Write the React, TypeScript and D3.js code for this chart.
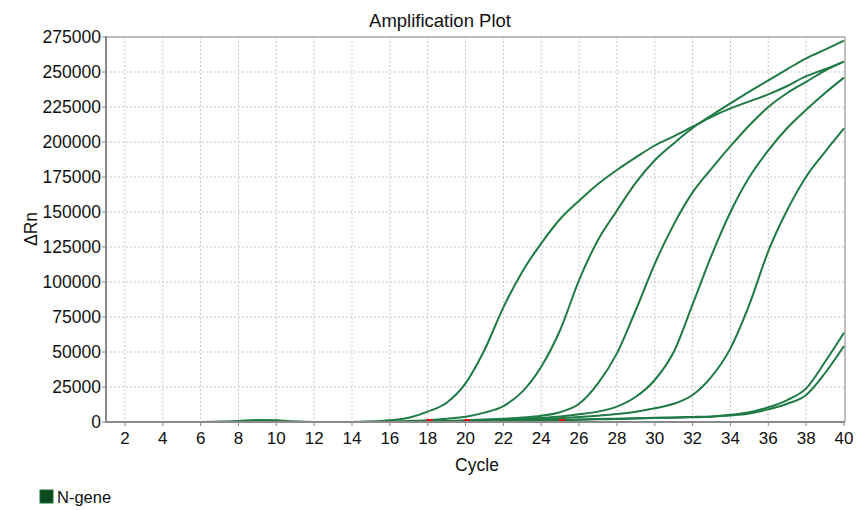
import React from "react";
import * as d3 from "d3";

const cycles: number[] = d3.range(1, 41);
const xTicks: number[] = [2, 4, 6, 8, 10, 12, 14, 16, 18, 20, 22, 24, 26, 28, 30, 32, 34, 36, 38, 40];
const yTicks: number[] = [0, 25000, 50000, 75000, 100000, 125000, 150000, 175000, 200000, 225000, 250000, 275000];

const wellA: number[] = [0, 0, 0, 0, 0, 0, 200, 700, 1500, 1300, 300, 0, 0, 0, 300, 1200, 3000, 7400, 13800, 27600, 51400, 81900, 107400, 127600, 145000, 158000, 170000, 180000, 189000, 197500, 204000, 211000, 218000, 224000, 229000, 234000, 240000, 247000, 252000, 257400];
const wellB: number[] = [0, 0, 0, 0, 0, 0, 100, 500, 1000, 900, 200, 0, 0, 0, 100, 300, 700, 1200, 2400, 3800, 6700, 11400, 21700, 39500, 65700, 101400, 130000, 151000, 171000, 187000, 199000, 210000, 219000, 227600, 236000, 244000, 252000, 259800, 266000, 272400];
const wellC: number[] = [0, 0, 0, 0, 0, 0, 0, 0, 0, 0, 0, 0, 0, 0, 0, 0, 200, 500, 800, 1200, 1700, 2400, 3200, 4500, 7000, 13000, 27600, 49000, 80000, 113000, 141000, 164000, 181000, 197000, 212000, 225000, 235000, 243000, 251000, 257400];
const wellD: number[] = [0, 0, 0, 0, 0, 0, 0, 0, 0, 0, 0, 0, 0, 0, 0, 0, 0, 0, 300, 600, 1000, 1500, 2200, 3000, 4000, 5500, 7400, 11000, 18000, 30000, 50000, 84000, 119000, 150000, 175000, 194000, 210000, 223000, 235000, 246000];
const wellE: number[] = [0, 0, 0, 0, 0, 0, 0, 0, 0, 0, 0, 0, 0, 0, 0, 0, 0, 0, 0, 300, 600, 1000, 1500, 2000, 2700, 3500, 4500, 5700, 7400, 9800, 13000, 19300, 32400, 52600, 84000, 122000, 151400, 175200, 193000, 209700];
const wellF: number[] = [0, 0, 0, 0, 0, 0, 0, 0, 0, 0, 0, 0, 0, 0, 0, 0, 0, 0, 0, 0, 300, 600, 900, 1200, 1500, 1800, 2100, 2400, 2700, 3000, 3300, 3600, 4000, 5200, 7000, 10500, 15700, 24000, 43000, 63800];
const wellG: number[] = [0, 0, 0, 0, 0, 0, 0, 0, 0, 0, 0, 0, 0, 0, 0, 0, 0, 0, 0, 0, 200, 400, 700, 1000, 1300, 1600, 1900, 2200, 2500, 2800, 3100, 3400, 3800, 4600, 6000, 9000, 13000, 19300, 35000, 54300];
const wells: number[][] = [wellA, wellB, wellC, wellD, wellE, wellF, wellG];
const markerCycles: number[] = [18.1, 20.1, 25.1];

const W = 864;
const H = 510;
const left = 106;
const right = 844;
const top = 37;
const bottom = 422;
const FONT = "Liberation Sans, Arial, sans-serif";

export default function App() {
  const x = d3.scaleLinear().domain([1, 40]).range([left, right]);
  const y = d3.scaleLinear().domain([0, 275000]).range([bottom, top]);
  const line = d3
    .line<number>()
    .x((_, i) => x(cycles[i]))
    .y((d) => y(d))
    .curve(d3.curveMonotoneX);

  return (
    <svg
      width={W}
      height={H}
      style={{ position: "absolute", left: 0, top: 0, background: "#fff" }}
      fontFamily={FONT}
    >
      <rect x={0} y={0} width={W} height={H} fill="#fff" />
      <text x={440} y={27} textAnchor="middle" fontSize={18.5} fill="#111">
        Amplification Plot
      </text>
      {/* grid */}
      {xTicks.filter((t) => t < 40).map((t) => (
        <line key={"gx" + t} x1={x(t)} x2={x(t)} y1={top} y2={bottom} stroke="#c8c8c8" strokeWidth={1} strokeDasharray="2,2" />
      ))}
      {yTicks.filter((t) => t > 0 && t < 275000).map((t) => (
        <line key={"gy" + t} x1={left} x2={right} y1={y(t)} y2={y(t)} stroke="#c8c8c8" strokeWidth={1} strokeDasharray="2,2" />
      ))}
      {/* frame */}
      <line x1={left} x2={right + 1} y1={top} y2={top} stroke="#a8a8a8" strokeWidth={1.5} />
      <line x1={right + 1} x2={right + 1} y1={top} y2={bottom} stroke="#a8a8a8" strokeWidth={1.5} />
      {/* curves */}
      {wells.map((w, i) => (
        <path key={"w" + i} d={line(w) || ""} fill="none" stroke="#1f7a45" strokeWidth={2} />
      ))}
      {markerCycles.map((c, i) => (
        <rect key={"m" + i} x={x(c) - 3} y={bottom - 3} width={6} height={3} fill="#e01010" />
      ))}
      {/* axes */}
      <line x1={left} x2={left} y1={top - 1} y2={bottom + 1} stroke="#8a8a8a" strokeWidth={2} />
      <line x1={left} x2={right + 1} y1={bottom} y2={bottom} stroke="#8a8a8a" strokeWidth={2} />
      {yTicks.map((t) => (
        <g key={"yt" + t}>
          <line x1={left - 4} x2={left} y1={y(t)} y2={y(t)} stroke="#8a8a8a" strokeWidth={1} />
          <text x={left - 5} y={y(t)} dy="0.36em" textAnchor="end" fontSize={17.5} fill="#111">
            {t}
          </text>
        </g>
      ))}
      {xTicks.map((t) => (
        <g key={"xt" + t}>
          <line x1={x(t)} x2={x(t)} y1={bottom} y2={bottom + 4} stroke="#8a8a8a" strokeWidth={1} />
          <text x={x(t)} y={bottom + 22} textAnchor="middle" fontSize={17} fill="#111">
            {t}
          </text>
        </g>
      ))}
      <text x={477} y={471} textAnchor="middle" fontSize={17.5} fill="#111">
        Cycle
      </text>
      <text transform={`translate(37,229) rotate(-90)`} textAnchor="middle" fontSize={17.5} fill="#111">
        ΔRn
      </text>
      {/* legend */}
      <rect x={40} y={490} width={13} height={13} fill="#0b4a1f" stroke="#1a6a34" strokeWidth={1} />
      <text x={57} y={503} fontSize={16.5} fill="#111">
        N-gene
      </text>
    </svg>
  );
}
